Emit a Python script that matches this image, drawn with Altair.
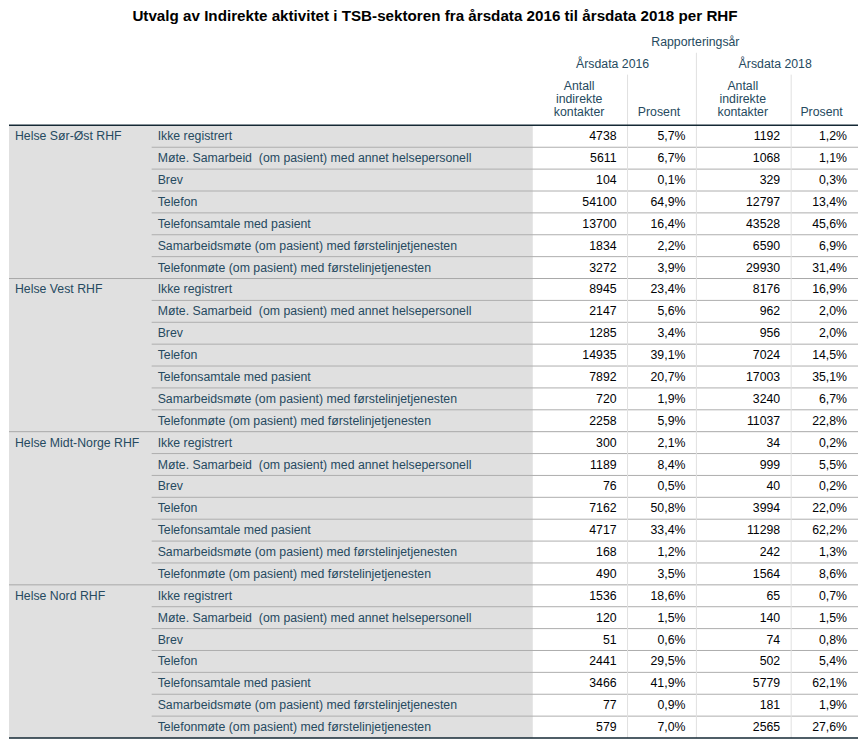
import altair as alt
import pandas as pd

# ---------------- data ----------------
title_text = "Utvalg av Indirekte aktivitet i TSB-sektoren fra årsdata 2016 til årsdata 2018 per RHF"
groups = ["Helse Sør-Øst RHF", "Helse Vest RHF", "Helse Midt-Norge RHF", "Helse Nord RHF"]
categories = [
    "Ikke registrert",
    "Møte. Samarbeid\u00a0 (om pasient) med annet helsepersonell",
    "Brev",
    "Telefon",
    "Telefonsamtale med pasient",
    "Samarbeidsmøte (om pasient) med førstelinjetjenesten",
    "Telefonmøte (om pasient) med førstelinjetjenesten",
]
antall_2016 = [
    [4738, 5611, 104, 54100, 13700, 1834, 3272],
    [8945, 2147, 1285, 14935, 7892, 720, 2258],
    [300, 1189, 76, 7162, 4717, 168, 490],
    [1536, 120, 51, 2441, 3466, 77, 579],
]
prosent_2016 = [
    [5.7, 6.7, 0.1, 64.9, 16.4, 2.2, 3.9],
    [23.4, 5.6, 3.4, 39.1, 20.7, 1.9, 5.9],
    [2.1, 8.4, 0.5, 50.8, 33.4, 1.2, 3.5],
    [18.6, 1.5, 0.6, 29.5, 41.9, 0.9, 7.0],
]
antall_2018 = [
    [1192, 1068, 329, 12797, 43528, 6590, 29930],
    [8176, 962, 956, 7024, 17003, 3240, 11037],
    [34, 999, 40, 3994, 11298, 242, 1564],
    [65, 140, 74, 502, 5779, 181, 2565],
]
prosent_2018 = [
    [1.2, 1.1, 0.3, 13.4, 45.6, 6.9, 31.4],
    [16.9, 2.0, 2.0, 14.5, 35.1, 6.7, 22.8],
    [0.2, 5.5, 0.2, 22.0, 62.2, 1.3, 8.6],
    [0.7, 1.5, 0.8, 5.4, 62.1, 1.9, 27.6],
]
header_top = "Rapporteringsår"
year_labels = ["Årsdata 2016", "Årsdata 2018"]
col_labels = ["Antall\nindirekte\nkontakter", "Prosent"]

# ---------------- layout (styling) ----------------
TOP = 127
ROW_H = 22
LEFT = 7
RIGHT = 858
GRAY_END = 532
CAT_X = 156
GROUP_X = 13
GROUP_LINE_X = 150
col_edges = [532, 627, 696, 791, 858]
HDR_COLOR = "#264A60"
DATA_COLOR = "#010205"
FONT = "Liberation Sans"
FS = 12.3


def pct(v):
    return f"{v:.1f}%".replace(".", ",")


n_rows = len(groups) * len(categories)
bottom = TOP + n_rows * ROW_H

# cell texts
left_rows, num_rows = [], []
r = 0
for g_i, g in enumerate(groups):
    for c_i, c in enumerate(categories):
        yc = TOP + ROW_H * r + ROW_H / 2
        if c_i == 0:
            left_rows.append({"x": GROUP_X, "y": yc, "t": g})
        left_rows.append({"x": CAT_X, "y": yc, "t": c})
        vals = [str(antall_2016[g_i][c_i]), pct(prosent_2016[g_i][c_i]),
                str(antall_2018[g_i][c_i]), pct(prosent_2018[g_i][c_i])]
        for k, v in enumerate(vals):
            num_rows.append({"x": col_edges[k + 1] - 11, "y": yc, "t": v})
        r += 1
left_df = pd.DataFrame(left_rows)
num_df = pd.DataFrame(num_rows)

# header texts (centered)
hdr_rows = [{"x": (col_edges[0] + col_edges[4]) / 2, "y": 43, "t": header_top}]
for i, yl in enumerate(year_labels):
    hdr_rows.append({"x": (col_edges[2 * i] + col_edges[2 * i + 2]) / 2 - 2, "y": 65, "t": yl})
    a = col_labels[0].split("\n")
    for j, line in enumerate(a):
        hdr_rows.append({"x": (col_edges[2 * i] + col_edges[2 * i + 1]) / 2 - 1,
                         "y": 87 + 13.5 * j, "t": line})
    hdr_rows.append({"x": (col_edges[2 * i + 1] + col_edges[2 * i + 2]) / 2 - 3,
                     "y": 114, "t": col_labels[1]})
hdr_df = pd.DataFrame(hdr_rows)

title_df = pd.DataFrame([{"x": 434, "y": 17, "t": title_text}])

# lines
lines = []
for k in range(1, n_rows):
    yk = TOP + ROW_H * k
    if k % len(categories) == 0:
        lines.append({"x": LEFT, "x2": RIGHT, "y": yk, "y2": yk, "c": "#A8A8A8", "w": 1})
    else:
        lines.append({"x": GROUP_LINE_X, "x2": RIGHT, "y": yk, "y2": yk, "c": "#AEAEAE", "w": 1})
for xe in col_edges[1:4]:
    lines.append({"x": xe, "x2": xe, "y": TOP, "y2": bottom, "c": "#E0E0E0", "w": 1})
lines.append({"x": col_edges[2], "x2": col_edges[2], "y": 54, "y2": TOP, "c": "#E0E0E0", "w": 1})
lines.append({"x": col_edges[1], "x2": col_edges[1], "y": 76, "y2": TOP, "c": "#E0E0E0", "w": 1})
lines.append({"x": col_edges[3], "x2": col_edges[3], "y": 76, "y2": TOP, "c": "#E0E0E0", "w": 1})
lines.append({"x": LEFT, "x2": RIGHT, "y": TOP, "y2": TOP, "c": "#152935", "w": 1.5})
lines.append({"x": LEFT, "x2": RIGHT, "y": bottom, "y2": bottom, "c": "#152935", "w": 1.5})
lines_df = pd.DataFrame(lines)

bg_df = pd.DataFrame([{"x": LEFT, "x2": GRAY_END, "y": TOP, "y2": bottom}])

xs = alt.Scale(domain=[8, 859], nice=False, zero=False)
ys = alt.Scale(domain=[10, 744], nice=False, zero=False, reverse=True)

X = lambda: alt.X("x:Q", scale=xs, axis=None)
Y = lambda: alt.Y("y:Q", scale=ys, axis=None)

bg = alt.Chart(bg_df).mark_rect(color="#E0E0E0").encode(
    x=X(), x2="x2:Q", y=Y(), y2="y2:Q")

rules = alt.Chart(lines_df).mark_rule().encode(
    x=X(), x2="x2:Q", y=Y(), y2="y2:Q",
    color=alt.Color("c:N", scale=None),
    strokeWidth=alt.StrokeWidth("w:Q", scale=None))

left_txt = alt.Chart(left_df).mark_text(
    align="left", baseline="middle", font=FONT, fontSize=FS, color=HDR_COLOR
).encode(x=X(), y=Y(), text="t:N")

num_txt = alt.Chart(num_df).mark_text(
    align="right", baseline="middle", font=FONT, fontSize=FS, color=DATA_COLOR
).encode(x=X(), y=Y(), text="t:N")

hdr_txt = alt.Chart(hdr_df).mark_text(
    align="center", baseline="middle", font=FONT, fontSize=FS, color=HDR_COLOR
).encode(x=X(), y=Y(), text="t:N")

title_txt = alt.Chart(title_df).mark_text(
    align="center", baseline="middle", font=FONT, fontSize=15.2, fontWeight="bold", color="#000000"
).encode(x=X(), y=Y(), text="t:N")

chart = alt.layer(bg, rules, left_txt, num_txt, hdr_txt, title_txt).properties(
    width=851, height=731, padding=0, background="white",
    autosize=alt.AutoSizeParams(type="fit", contains="padding"),
).configure_view(stroke=None)

chart.save("out.html", embed_options={"renderer": "svg", "actions": False})
